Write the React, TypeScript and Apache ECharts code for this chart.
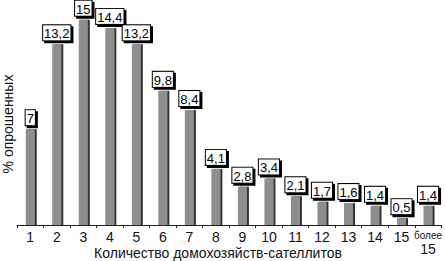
import React, { useEffect, useRef } from "react";
import * as echarts from "echarts";

const categories = ["1", "2", "3", "4", "5", "6", "7", "8", "9", "10", "11", "12", "13", "14", "15", "более\n15"];
const values = [7, 13.2, 15, 14.4, 13.2, 9.8, 8.4, 4.1, 2.8, 3.4, 2.1, 1.7, 1.6, 1.4, 0.5, 1.4];
const yAxisTitle = "% опрошенных";
const xAxisTitle = "Количество домохозяйств-сателлитов";

const FONT = "'Liberation Sans Narrow', 'Liberation Sans', Arial, sans-serif";
const FONT2 = "'Liberation Sans', Arial, sans-serif";

export default function App() {
  const ref = useRef<HTMLDivElement>(null);
  useEffect(() => {
    if (!ref.current) return;
    const chart = echarts.init(ref.current, undefined, { renderer: "svg" });
    chart.setOption({
      animation: false,
      backgroundColor: "#fff",
      grid: { left: 17, right: 2, top: 6, bottom: 36 },
      xAxis: {
        type: "category",
        data: categories,
        axisLine: { lineStyle: { color: "#222", width: 1 } },
        axisTick: { show: true, alignWithLabel: false, length: 3, lineStyle: { color: "#222" } },
        axisLabel: {
          interval: 0,
          margin: 5,
          color: "#111",
          fontFamily: FONT2,
          fontSize: 14,
          formatter: (v: string) => {
            if (v.indexOf("\n") >= 0) {
              const parts = v.split("\n");
              return "{s|" + parts[0] + "}\n{b|" + parts[1] + "}";
            }
            return v;
          },
          rich: {
            s: { fontSize: 10, fontFamily: FONT, color: "#111", lineHeight: 11 },
            b: { fontSize: 14, fontFamily: FONT2, color: "#111", lineHeight: 15 },
          },
        },
      },
      yAxis: {
        type: "value",
        min: 0,
        max: 16,
        axisLine: { show: false },
        axisTick: { show: false },
        axisLabel: { show: false },
        splitLine: { show: false },
      },
      graphic: [
        {
          type: "text",
          x: 8,
          y: 124,
          rotation: Math.PI / 2,
          style: {
            text: yAxisTitle,
            fill: "#111",
            font: "14px " + FONT2,
            textAlign: "center",
            textVerticalAlign: "middle",
          },
        },
        {
          type: "text",
          x: 218,
          y: 253,
          style: {
            text: xAxisTitle,
            fill: "#111",
            font: "14px " + FONT2,
            textAlign: "center",
            textVerticalAlign: "middle",
          },
        },
      ],
      series: [
        {
          type: "bar",
          data: values,
          barWidth: 9,
          itemStyle: {
            color: "#8e8e8e",
            shadowColor: "#333",
            shadowOffsetX: 2,
            shadowOffsetY: 0,
            shadowBlur: 0,
          },
          label: {
            show: true,
            position: "top",
            distance: 4,
            formatter: (p: any) => String(p.value).replace(".", ","),
            color: "#000",
            fontSize: 13,
            fontFamily: FONT,
            backgroundColor: "#fff",
            borderColor: "#000",
            borderWidth: 1,
            padding: [2, 1, 0, 1],
            shadowColor: "#000",
            shadowOffsetX: 2,
            shadowOffsetY: 2,
            shadowBlur: 0,
          },
        },
      ],
    });
    return () => chart.dispose();
  }, []);
  return <div ref={ref} style={{ width: 445, height: 261, position: "absolute", left: 0, top: 0 }} />;
}
